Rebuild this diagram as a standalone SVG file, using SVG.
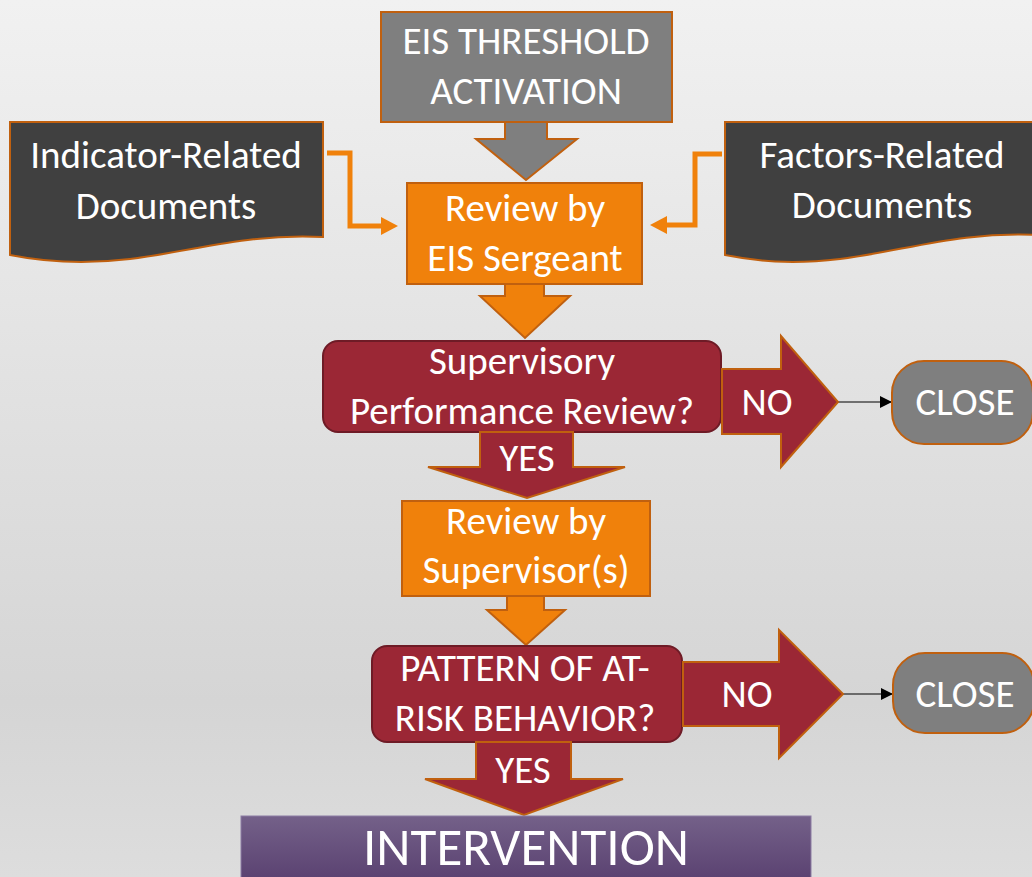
<svg xmlns="http://www.w3.org/2000/svg" width="1032" height="877" viewBox="0 0 1032 877">
<defs>
<linearGradient id="bg" x1="0" y1="0" x2="0" y2="1">
<stop offset="0" stop-color="#f1f1f1"/>
<stop offset="0.8" stop-color="#d5d5d5"/>
<stop offset="1" stop-color="#dddddd"/>
</linearGradient>
<linearGradient id="purple" x1="0" y1="0" x2="0" y2="1">
<stop offset="0" stop-color="#746189"/>
<stop offset="1" stop-color="#563c6d"/>
</linearGradient>
<marker id="blk" markerWidth="12" markerHeight="12" refX="11" refY="6" orient="auto" markerUnits="userSpaceOnUse">
<path d="M0,0 L12,6 L0,12 Z" fill="#000"/>
</marker>
<style>
text{font-family:Carlito,Lato,"Liberation Sans",sans-serif;fill:#ffffff;text-anchor:middle;font-size:39px}
.gray{fill:#7f7f7f;stroke:#c0600f;stroke-width:2}
.orange{fill:#f0810b;stroke:#c0600f;stroke-width:2}
.dark{fill:#404040;stroke:#c0600f;stroke-width:2}
.dec{fill:#9b2735;stroke:#6e1b26;stroke-width:2}
.redarrow{fill:#9b2735;stroke:#c0600f;stroke-width:2}
.elbow{fill:none;stroke:#f0810b;stroke-width:5}
.ahead{fill:#f0810b}
.thin{fill:none;stroke:#000;stroke-width:1.2}
</style>
</defs>
<rect x="0" y="0" width="1032" height="877" fill="url(#bg)"/>

<g id="connectors">
<path class="elbow" d="M327,153 H350 V226 H384"/>
<polygon class="ahead" points="381,217 398,226 381,235"/>
<path class="elbow" d="M722,154 H695 V225 H664"/>
<polygon class="ahead" points="667,216 650,225 667,234"/>
<polygon fill="#ed7d31" points="1013,157 1032,152 1032,177"/>
<polygon class="gray" points="505,122 547,122 547,139 577,139 526,180 476,139 505,139"/>
<polygon class="orange" points="505,284 544,284 544,296 570,296 525,338 480,296 505,296"/>
<polygon class="orange" points="507,596 544,596 544,610 565,610 526,645 487,610 507,610"/>
<line class="thin" x1="838" y1="402" x2="891" y2="402" marker-end="url(#blk)"/>
<line class="thin" x1="843" y1="694" x2="892" y2="694" marker-end="url(#blk)"/>
</g>

<g id="eis-threshold">
<rect class="gray" x="381" y="12" width="291" height="110"/>
<text x="526" y="54">EIS THRESHOLD</text>
<text x="526" y="104">ACTIVATION</text>
</g>

<g id="indicator-docs">
<path class="dark" d="M10,122 H323 V237 C250,233 195,251 130,259 C80,265 40,261 10,255 Z"/>
<text x="166" y="168">Indicator-Related</text>
<text x="166" y="219">Documents</text>
</g>

<g id="factors-docs">
<path class="dark" d="M725,122 H1040 V235 C960,231 905,251 840,259 C790,265 755,261 725,255 Z"/>
<text x="882" y="168">Factors-Related</text>
<text x="882" y="218">Documents</text>
</g>

<g id="review-sergeant">
<rect class="orange" x="407" y="183" width="235" height="101"/>
<text x="525" y="221">Review by</text>
<text x="525" y="271">EIS Sergeant</text>
</g>

<g id="supervisory-decision">
<rect class="dec" x="323" y="341" width="398" height="91" rx="15"/>
<text x="522" y="374">Supervisory</text>
<text x="522" y="424">Performance Review?</text>
</g>

<g id="yes-1">
<polygon class="redarrow" points="480,432 573,432 573,467 625,467 527,498 428,467 480,467"/>
<text x="527" y="471">YES</text>
</g>

<g id="no-1">
<polygon class="redarrow" points="722,369 781,369 781,336 838,402 781,467 781,434 722,434"/>
<text x="767" y="415">NO</text>
</g>

<g id="close-1">
<rect class="gray" x="892" y="361" width="141" height="83" rx="32"/>
<text x="965" y="415">CLOSE</text>
</g>

<g id="review-supervisors">
<rect class="orange" x="402" y="501" width="248" height="95"/>
<text x="526" y="534">Review by</text>
<text x="526" y="583">Supervisor(s)</text>
</g>

<g id="pattern-decision">
<rect class="dec" x="372" y="646" width="310" height="96" rx="15"/>
<text x="525" y="681">PATTERN OF AT-</text>
<text x="525" y="731">RISK BEHAVIOR?</text>
</g>

<g id="yes-2">
<polygon class="redarrow" points="476,742 571,742 571,779 623,779 524,815 425,779 476,779"/>
<text x="523" y="783">YES</text>
</g>

<g id="no-2">
<polygon class="redarrow" points="683,662 779,662 779,630 843,694 779,758 779,726 683,726"/>
<text x="747" y="707">NO</text>
</g>

<g id="close-2">
<rect class="gray" x="893" y="653" width="141" height="80" rx="32"/>
<text x="965" y="707">CLOSE</text>
</g>

<g id="intervention">
<rect x="241" y="816" width="570" height="75" fill="url(#purple)" stroke="#8c7ca3" stroke-width="1"/>
<text x="526" y="865" style="font-size:53px">INTERVENTION</text>
</g>
</svg>
